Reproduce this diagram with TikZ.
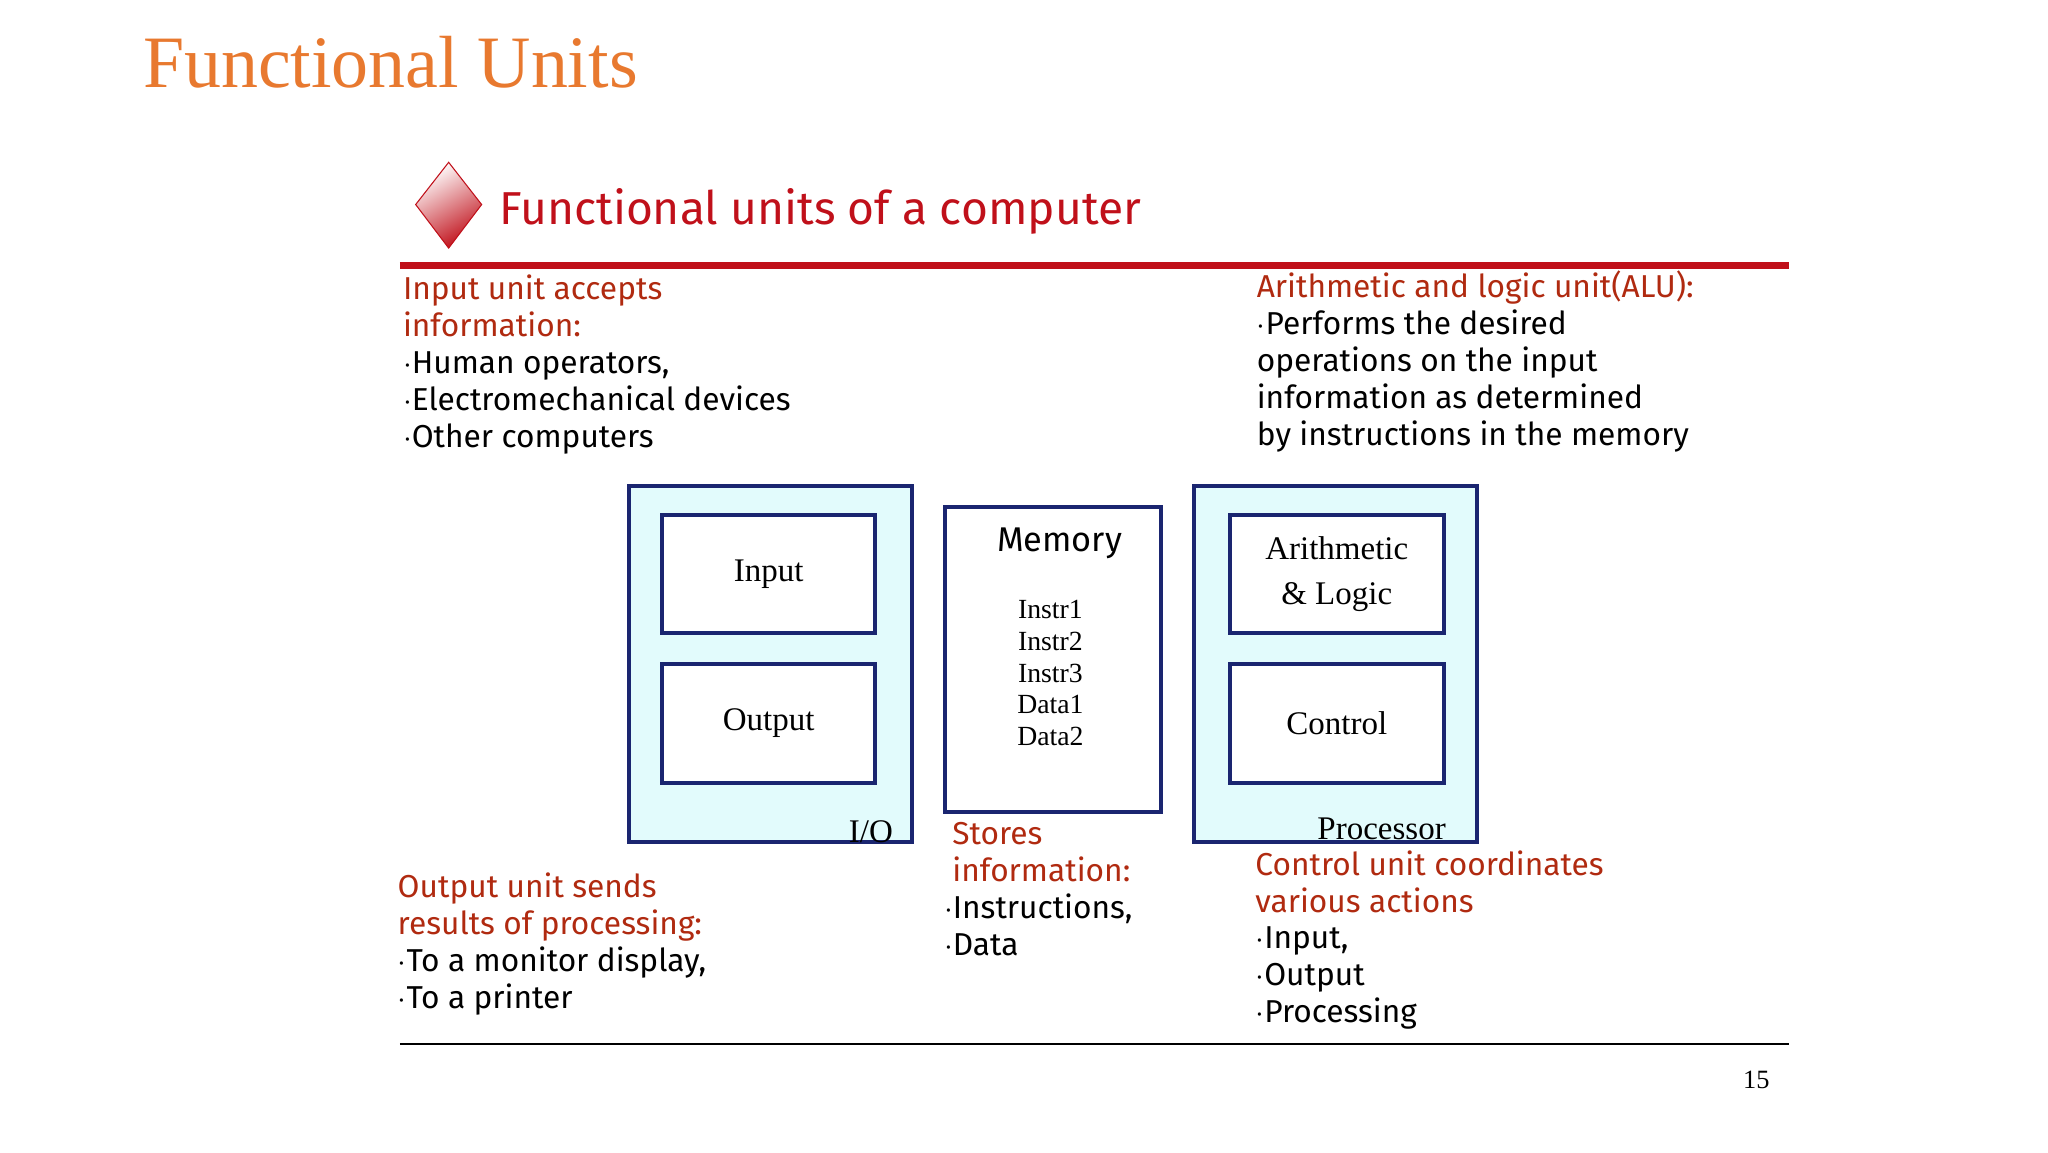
\documentclass[tikz,border=0pt]{standalone}
\usepackage{fontspec}
\setmainfont{Liberation Serif}
\newfontfamily\cs{Fira Sans}
\definecolor{org}{HTML}{E8792F}
\definecolor{hred}{HTML}{C0101A}
\definecolor{dred}{HTML}{B02A10}
\definecolor{navy}{HTML}{1A2570}
\definecolor{lcyan}{HTML}{E2FBFC}
\begin{document}
\begin{tikzpicture}[x=0.5pt,y=-0.5pt,
  outer/.style={draw=navy,line width=1.5pt,fill=lcyan},
  inner/.style={draw=navy,line width=1.5pt,fill=white},
  body/.style={anchor=north west,align=left,font=\cs\fontsize{12}{14}\selectfont,inner sep=0pt},
  lbl/.style={font=\fontsize{12.5}{15}\selectfont}]
\useasboundingbox (0,0) rectangle (1552,873);
\node[anchor=base west,text=org,font=\fontsize{28}{30}\selectfont,inner sep=0] (title) at (108,66) {Functional Units};
\shade[top color=white,bottom color=hred,shading angle=30,draw=hred] (340,123) -- (365,155) -- (340,188) -- (315,155) -- cycle;
\node[anchor=base west,text=hred,font=\cs\fontsize{17.5}{20}\selectfont,inner sep=0] (hdr) at (378,170) {Functional units of a computer};
\draw[hred,line width=2.5pt] (303,201) -- (1356,201);
\node[body] (in) at (305,208) {\textcolor{dred}{Input unit accepts}\\\textcolor{dred}{information:}\\$\cdot$Human operators,\\$\cdot$Electromechanical devices\\$\cdot$Other computers};
\node[body] (alu) at (952,205) {\textcolor{dred}{Arithmetic and logic unit(ALU):}\\$\cdot$Performs the desired\\operations on the input\\information as determined\\by instructions in the memory};
\node[body] (out) at (301,661) {\textcolor{dred}{Output unit sends}\\\textcolor{dred}{results of processing:}\\$\cdot$To a monitor display,\\$\cdot$To a printer};
\node[body] (st) at (715,623) {\textcolor{dred}{\ Stores}\\\textcolor{dred}{\ information:}\\$\cdot$Instructions,\\$\cdot$Data};
\node[body] (cu) at (951,644) {\textcolor{dred}{Control unit coordinates}\\\textcolor{dred}{various actions}\\$\cdot$Input,\\$\cdot$Output\\$\cdot$Processing};
\draw[outer] (477,368) rectangle (691,638);
\node[inner,minimum width=161*0.5pt,minimum height=90*0.5pt,lbl] (inp) at (582.5,435) {Input};
\node[inner,minimum width=161*0.5pt,minimum height=90*0.5pt,lbl] (outp) at (582.5,548) {Output};
\node[lbl,inner sep=0] (io) at (660,630) {I/O};
\node[inner,minimum width=164*0.5pt,minimum height=231*0.5pt] (mem) at (798,499.5) {};
\node[font=\cs\fontsize{13}{15}\selectfont] (memt) at (803,412) {Memory};
\node[font=\fontsize{10.5}{12}\selectfont,align=center,anchor=north] (instr) at (796,448) {Instr1\\Instr2\\Instr3\\Data1\\Data2};
\draw[outer] (905,368) rectangle (1119,638);
\node[inner,minimum width=162*0.5pt,minimum height=90*0.5pt,lbl,align=center] (al) at (1013,435) {Arithmetic\\[2pt]\& Logic};
\node[inner,minimum width=162*0.5pt,minimum height=90*0.5pt,lbl] (ctl) at (1013,548) {Control};
\node[lbl,inner sep=0] (proc) at (1047,628) {Processor};
\draw[line width=0.6pt] (303,791) -- (1356,791);
\node[font=\fontsize{10}{12}\selectfont] (pg) at (1331,818) {15};
\end{tikzpicture}
\end{document}
